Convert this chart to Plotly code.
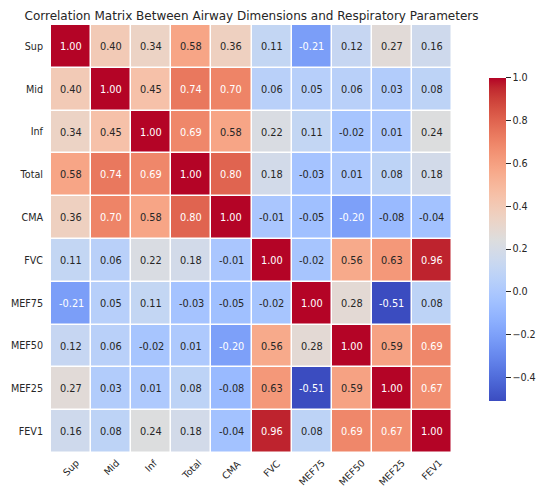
import plotly.graph_objects as go

# variables (same order for rows and columns)
labels = ["Sup", "Mid", "Inf", "Total", "CMA", "FVC", "MEF75", "MEF50", "MEF25", "FEV1"]

# correlation values, row by row
corr = [
    [1.00, 0.40, 0.34, 0.58, 0.36, 0.11, -0.21, 0.12, 0.27, 0.16],
    [0.40, 1.00, 0.45, 0.74, 0.70, 0.06, 0.05, 0.06, 0.03, 0.08],
    [0.34, 0.45, 1.00, 0.69, 0.58, 0.22, 0.11, -0.02, 0.01, 0.24],
    [0.58, 0.74, 0.69, 1.00, 0.80, 0.18, -0.03, 0.01, 0.08, 0.18],
    [0.36, 0.70, 0.58, 0.80, 1.00, -0.01, -0.05, -0.20, -0.08, -0.04],
    [0.11, 0.06, 0.22, 0.18, -0.01, 1.00, -0.02, 0.56, 0.63, 0.96],
    [-0.21, 0.05, 0.11, -0.03, -0.05, -0.02, 1.00, 0.28, -0.51, 0.08],
    [0.12, 0.06, -0.02, 0.01, -0.20, 0.56, 0.28, 1.00, 0.59, 0.69],
    [0.27, 0.03, 0.01, 0.08, -0.08, 0.63, -0.51, 0.59, 1.00, 0.67],
    [0.16, 0.08, 0.24, 0.18, -0.04, 0.96, 0.08, 0.69, 0.67, 1.00],
]

cbar_ticks = [-0.4, -0.2, 0.0, 0.2, 0.4, 0.6, 0.8, 1.0]

# matplotlib "coolwarm"
cw = [
    (59, 76, 192), (68, 90, 204), (77, 104, 215), (87, 117, 225), (98, 130, 234),
    (108, 142, 241), (119, 154, 247), (130, 165, 251), (141, 176, 254), (152, 185, 255),
    (163, 194, 255), (174, 201, 253), (184, 208, 249), (194, 213, 244), (204, 217, 238),
    (213, 219, 230), (221, 221, 221), (229, 216, 209), (236, 211, 197), (241, 204, 185),
    (245, 196, 173), (247, 187, 160), (247, 177, 148), (247, 166, 135), (244, 154, 123),
    (241, 141, 111), (236, 127, 99), (229, 112, 88), (222, 96, 77), (213, 80, 66),
    (203, 62, 56), (192, 40, 47), (180, 4, 38),
]
coolwarm = [[i / (len(cw) - 1), "rgb(%d,%d,%d)" % c] for i, c in enumerate(cw)]

zmin = min(min(r) for r in corr)
zmax = 1.0
DARK = "#262626"


def cell_rgb(v):
    t = (v - zmin) / (zmax - zmin) * (len(cw) - 1)
    i = min(int(t), len(cw) - 2)
    f = t - i
    return [cw[i][k] + (cw[i + 1][k] - cw[i][k]) * f for k in range(3)]


def text_color(v):
    # same rule seaborn uses for annot colours
    lin = []
    for c in cell_rgb(v):
        c = c / 255
        lin.append(c / 12.92 if c <= 0.03928 else ((c + 0.055) / 1.055) ** 2.4)
    lum = 0.2126 * lin[0] + 0.7152 * lin[1] + 0.0722 * lin[2]
    return DARK if lum > 0.408 else "white"


fig = go.Figure(go.Heatmap(
    z=corr, x=labels, y=labels,
    zmin=zmin, zmax=zmax,
    colorscale=coolwarm,
    xgap=1.5, ygap=1.5,
    colorbar=dict(
        x=1.068, xanchor="left", y=0.499, yanchor="middle",
        len=0.801, thickness=17, outlinewidth=0,
        tickvals=cbar_ticks, tickformat=".1f",
        ticks="outside", ticklen=5, tickcolor=DARK, tickwidth=1,
        tickfont=dict(size=9.6, color=DARK),
    ),
))

annotations = []
for i, row in enumerate(corr):
    for j, v in enumerate(row):
        annotations.append(dict(
            x=labels[j], y=labels[i], xref="x", yref="y",
            text="%.2f" % v, showarrow=False,
            font=dict(size=9.8, color=text_color(v)),
        ))

# x labels rotated 45 deg and centred under each column
for lab in labels:
    annotations.append(dict(
        x=lab, y=0, xref="x", yref="paper",
        text=lab, showarrow=False, textangle=-45, borderpad=0,
        xanchor="center", yanchor="top", yshift=-3,
        font=dict(size=9.5, color=DARK),
    ))

fig.update_layout(
    width=550, height=486,
    margin=dict(l=43, r=80, t=17, b=41),
    paper_bgcolor="white", plot_bgcolor="white",
    font=dict(family="DejaVu Sans", color=DARK),
    title=dict(
        text="Correlation Matrix Between Airway Dimensions and Respiratory Parameters",
        x=0.5, xref="paper", xanchor="center", y=0.984, yanchor="middle",
        font=dict(size=12, color=DARK),
    ),
    xaxis=dict(showticklabels=False, showgrid=False, zeroline=False,
               automargin=False, ticks=""),
    yaxis=dict(autorange="reversed", tickfont=dict(size=9.6), showgrid=False,
               zeroline=False, automargin=False, ticks="", ticklabelstandoff=7),
    annotations=annotations,
)

fig.write_html("out.html")
